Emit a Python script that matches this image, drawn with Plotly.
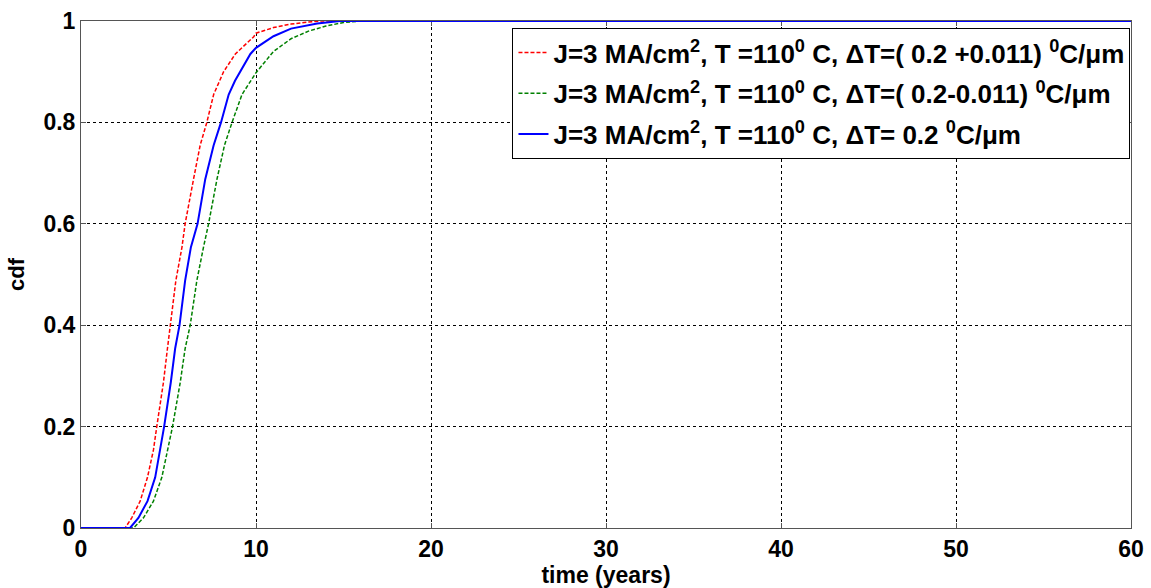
import plotly.graph_objects as go

# time (years) and cdf values
t_red = [0, 2.52, 2.9, 3.38, 3.8, 4.14, 4.33, 4.71, 4.94, 5.1, 5.42, 5.77, 5.95, 6.43, 6.81, 7.19, 7.58,
         8.15, 8.82, 9.87, 10.0, 11.0, 12.0, 13.0, 13.7, 60]
c_red = [0, 0, 0.02, 0.053, 0.1, 0.154, 0.2, 0.287, 0.354, 0.4, 0.488, 0.554, 0.6, 0.688, 0.755, 0.8, 0.855,
         0.9, 0.935, 0.969, 0.976, 0.987, 0.994, 0.998, 1.0, 1.0]

t_green = [0, 3.0, 3.57, 4.14, 4.62, 4.94, 5.23, 5.67, 5.95, 6.24, 6.62, 7.0, 7.29, 7.77, 8.2, 8.63, 9.2,
           10.0, 11.0, 12.0, 13.0, 14.0, 15.0, 16.0, 60]
c_green = [0, 0, 0.02, 0.053, 0.1, 0.154, 0.2, 0.287, 0.354, 0.4, 0.488, 0.554, 0.6, 0.688, 0.755, 0.8, 0.855,
           0.898, 0.94, 0.965, 0.98, 0.99, 0.997, 1.0, 1.0]

t_blue = [0, 2.8, 3.28, 3.8, 4.24, 4.52, 4.75, 5.13, 5.38, 5.63, 5.95, 6.28, 6.66, 7.1, 7.58, 8.0, 8.44,
          8.8, 9.1, 9.68, 10.0, 11.0, 12.0, 13.5, 14.8, 60]
c_blue = [0, 0, 0.02, 0.053, 0.1, 0.154, 0.2, 0.287, 0.354, 0.4, 0.488, 0.554, 0.6, 0.688, 0.755, 0.8, 0.855,
          0.882, 0.9, 0.935, 0.947, 0.97, 0.985, 0.995, 1.0, 1.0]

names = [
    "J=3 MA/cm<sup>2</sup>, T =110<sup>0</sup> C, \u0394T=( 0.2 +0.011) <sup>0</sup>C/\u03bcm",
    "J=3 MA/cm<sup>2</sup>, T =110<sup>0</sup> C, \u0394T=( 0.2-0.011) <sup>0</sup>C/\u03bcm",
    "J=3 MA/cm<sup>2</sup>, T =110<sup>0</sup> C, \u0394T= 0.2 <sup>0</sup>C/\u03bcm",
]

x_ticks = [0, 10, 20, 30, 40, 50, 60]
y_ticks = [0, 0.2, 0.4, 0.6, 0.8, 1]
y_tick_text = ["0", "0.2", "0.4", "0.6", "0.8", "1"]

FONT = "Liberation Sans"

fig = go.Figure()
fig.add_trace(go.Scatter(x=t_red, y=c_red, mode="lines", name=names[0], legendgroup="r",
                         line=dict(color="#ff0000", width=1.5, dash="4px,2px")))
fig.add_trace(go.Scatter(x=t_green, y=c_green, mode="lines", name=names[1], legendgroup="g",
                         line=dict(color="#008000", width=1.5, dash="4px,2px")))
fig.add_trace(go.Scatter(x=t_blue, y=c_blue, mode="lines", name=names[2], legendgroup="b",
                         line=dict(color="#0000ff", width=2)))

axis_common = dict(
    showgrid=True, gridcolor="black", griddash="dot", gridwidth=1,
    showline=True, linecolor="#555555", linewidth=1, mirror="ticks",
    ticks="inside", ticklen=5, tickcolor="#555555",
    zeroline=False, layer="below traces", automargin=False,
    tickfont=dict(family=FONT, size=23, color="black", weight="bold"),
)

fig.update_xaxes(range=[0, 60], tickvals=x_ticks, ticktext=[str(v) for v in x_ticks],
                 title=dict(text="time (years)", standoff=4,
                            font=dict(family=FONT, size=23, color="black", weight="bold")),
                 **axis_common)
fig.update_yaxes(range=[0, 1], tickvals=y_ticks, ticktext=y_tick_text,
                 title=dict(text="cdf", standoff=12,
                            font=dict(family=FONT, size=22, color="black", weight="bold")),
                 **axis_common)

fig.update_layout(
    width=1151, height=588,
    margin=dict(l=81, r=20, t=21, b=60),
    paper_bgcolor="white", plot_bgcolor="white",
    font=dict(family=FONT, size=20, color="black", weight="bold"),
    legend=dict(x=0.9995, y=0.986, xanchor="right", yanchor="top",
                bgcolor="white", bordercolor="black", borderwidth=1,
                font=dict(family=FONT, size=26, color="black", weight="bold"),
                tracegroupgap=4, itemwidth=30),
    showlegend=True,
)

fig.write_html("out.html")
